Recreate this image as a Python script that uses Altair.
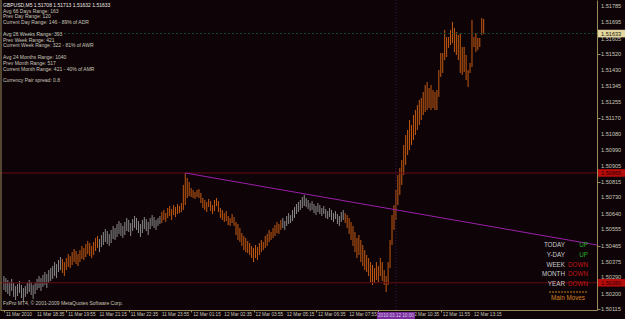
import altair as alt
import pandas as pd

# ---------------- data (prices as points above 1.50000, i.e. 1e-5 units) ----------------
BASE = 1.5
HIGH_PTS = [297, 286, 275, 264, 281, 259, 242, 253, 270, 248, 231, 242, 259, 275, 264, 248, 259, 281, 297, 286,
            303, 319, 308, 330, 341,
            352, 374, 363, 385, 402, 391, 374, 396, 418, 407, 429, 446, 435, 418, 440, 463, 452, 474, 490, 479,
            463, 485, 507, 518, 501, 523,
            540, 556, 545, 529, 551, 573, 562, 584, 600, 589, 573, 595, 617, 606, 589, 611, 628, 617, 600, 584,
            606, 622, 611, 595, 617, 633, 622, 606, 617, 628,
            650, 661, 644, 672, 683, 666, 688, 677, 694, 683, 699, 799, 865, 837, 815, 782, 771, 760, 771, 776,
            755, 727, 716, 705, 722, 710, 688, 716, 727, 710, 672, 661, 644, 655, 628, 617, 639, 622, 595, 584,
            562, 534, 518, 507, 490, 479, 463, 452, 468, 457, 479, 496, 485, 518, 529, 551, 540, 562, 578, 595,
            584, 606, 617, 600, 628, 644, 633, 661, 677, 694, 705, 716, 733, 744, 727, 716, 699, 710, 694, 683,
            699, 688, 672, 683, 666, 655, 672, 661, 644, 655, 639, 628, 650, 661, 644, 633, 617, 595, 573, 540,
            507, 523, 496, 468, 440, 413, 396, 374, 358, 341, 374, 352, 396, 374, 330, 297, 374, 496, 633, 688,
            771, 854, 892, 936, 1019, 1074, 1102, 1157, 1129, 1184, 1212, 1239, 1267, 1278, 1311, 1350, 1366, 1333, 1350, 1322,
            1311, 1322, 1432, 1526, 1526, 1653, 1614, 1614, 1653, 1697, 1664, 1642, 1625, 1636, 1559, 1559, 1515, 1432, 1471, 1708,
            1614, 1636, 1609, 1609, 1719, 1713]
LOW_PTS = [220, 209, 198, 187, 215, 182, 165, 187, 204, 176, 159, 182, 198, 209, 193, 171, 198, 220, 231, 215,
           237, 248, 231, 259, 270,
           281, 297, 286, 319, 330, 314, 297, 330, 347, 341, 358, 374, 363, 352, 374, 391, 385, 402, 418, 407,
           396, 413, 435, 452, 429, 457,
           468, 485, 474, 463, 479, 501, 496, 512, 529, 518, 507, 523, 545, 540, 518, 545, 562, 551, 534, 512,
           534, 556, 545, 523, 556, 573, 562, 551, 573, 584,
           589, 606, 595, 617, 628, 606, 633, 622, 639, 644, 650, 661, 688, 727, 738, 733, 727, 722, 733, 727,
           699, 672, 661, 650, 677, 655, 639, 655, 683, 650, 617, 606, 595, 600, 578, 573, 589, 573, 523, 496,
           485, 463, 440, 429, 424, 413, 396, 374, 396, 385, 413, 429, 440, 452, 463, 485, 496, 507, 518, 534,
           529, 551, 562, 551, 573, 584, 589, 600, 617, 639, 650, 661, 672, 683, 677, 666, 655, 661, 644, 633,
           650, 639, 628, 639, 617, 611, 622, 606, 595, 611, 584, 573, 595, 606, 589, 562, 529, 496, 463, 429,
           396, 413, 374, 352, 330, 319, 297, 264, 248, 259, 275, 264, 297, 270, 248, 209, 248, 341, 468, 551,
           606, 688, 744, 799, 854, 909, 964, 991, 1019, 1047, 1074, 1102, 1129, 1157, 1184, 1201, 1212, 1223, 1212, 1223,
           1212, 1212, 1284, 1394, 1416, 1487, 1504, 1554, 1570, 1581, 1531, 1515, 1487, 1416, 1405, 1421, 1377, 1339, 1416, 1449,
           1559, 1531, 1542, 1559, 1625, 1632]
# o = orange bar, g = grey bar (one letter per bar)
BAR_TONE = ("gggggggggggggggggggggggggggggg"          # 0-29
            "ooooooooooooooooooo"                     # 30-48
            "gggggggggggggggggggggggggggggggg"        # 49-80
            "oooooooooooooooooooooooooooooooooooooooooooooooooooooooooooooo"  # 81-144
            "gggggggggggggggggggggggggggggggg"        # 145-176
            "ooooooooooooooooooooooooooooooooooooooooooooooooooooooooooooooooooooooo")
BAR_TONE = BAR_TONE[:len(HIGH_PTS)].ljust(len(HIGH_PTS), "o")

TICK_IDX = [0, 16, 32, 48, 64, 80, 96, 112, 128, 144, 160, 176, 192, 208, 224, 240]
TICK_LABELS = ["11 Mar 2010", "11 Mar 18:35", "11 Mar 19:55", "11 Mar 21:15", "11 Mar 22:35", "11 Mar 23:55",
               "12 Mar 01:15", "12 Mar 02:35", "12 Mar 03:55", "12 Mar 05:15", "12 Mar 06:35", "12 Mar 07:55",
               "", "12 Mar 10:35", "12 Mar 11:55", "12 Mar 13:15"]
Y_TICKS = [1.51785, 1.51695, 1.51605, 1.51520, 1.51430, 1.51345, 1.51255, 1.51170, 1.51080, 1.50990,
           1.50905, 1.50815, 1.50730, 1.50640, 1.50555, 1.50465, 1.50375, 1.50290, 1.50200, 1.50115]

TREND_IDX = [93, 304.1]
TREND_PRICE = [1.50865, 1.50468]
RED_LEVELS = [1.50865, 1.50260]
BID_PRICE = 1.51633
MARK_IDX = 201
MARK_LABEL = "2010.03.12 10:00"

INFO_TITLE = "GBPUSD,M5  1.51708 1.51713 1.51632 1.51633"
INFO_LINES = ["Avg 66 Days Range: 163", "Prev Day Range: 120", "Current Day Range: 146 - 89% of ADR", "",
              "Avg 26 Weeks Range: 393", "Prev Week Range: 421", "Current Week Range: 322 - 81% of AWR", "",
              "Avg 24 Months Range: 1040", "Prev Month Range: 517", "Current Month Range: 421 - 40% of AMR", "",
              "Currency Pair spread: 0.8"]
COPYRIGHT = "FxPro MT4, \u00a9 2001-2009 MetaQuotes Software Corp."
MM_LABELS = ["TODAY", "Y-DAY", "WEEK", "MONTH", "YEAR"]
MM_VALUES = ["UP", "UP", "DOWN", "DOWN", "DOWN"]

# ---------------- styling ----------------
BG = "#0e0408"
OLIVE = "#9a8a5c"
TXT = "#c8c4b8"
FONT = "Liberation Sans"
W, H = 597, 310

xs = alt.Scale(domain=[-2, 304.1], nice=False, zero=False)
ys = alt.Scale(domain=[1.50110, 1.51818], nice=False, zero=False)

bars = pd.DataFrame({
    "i": list(range(len(HIGH_PTS))),
    "high": [BASE + p / 1e5 for p in HIGH_PTS],
    "low": [BASE + p / 1e5 for p in LOW_PTS],
    "tone": list(BAR_TONE),
})

x_axis = alt.Axis(values=TICK_IDX, labels=False, tickColor=OLIVE, tickSize=2, domainColor=OLIVE,
                  grid=False, title=None)
y_axis = alt.Axis(orient="right", values=Y_TICKS, labels=False, tickColor=OLIVE, tickSize=3,
                  domainColor=OLIVE, grid=False, title=None)

base_bars = alt.Chart(bars).mark_rule(strokeWidth=1).encode(
    x=alt.X("i:Q", scale=xs, axis=x_axis),
    y=alt.Y("high:Q", scale=ys, axis=y_axis),
    y2="low:Q",
    color=alt.Color("tone:N", scale=alt.Scale(domain=["o", "g"], range=["#c45a12", "#8a8a8a"]), legend=None),
)

# axis labels drawn as text through the same scales
xlab = alt.Chart(pd.DataFrame({"i": TICK_IDX, "t": TICK_LABELS})).mark_text(
    align="left", baseline="middle", fontSize=4.7, font=FONT, color=TXT, dx=2).encode(
    x=alt.X("i:Q", scale=xs), y=alt.value(H + 5), text="t:N")
ylab = alt.Chart(pd.DataFrame({"p": Y_TICKS})).transform_calculate(
    t="format(datum.p, '.5f')").mark_text(
    align="left", baseline="middle", fontSize=5.6, font=FONT, color=TXT).encode(
    y=alt.Y("p:Q", scale=ys), x=alt.value(W + 4), text="t:N")

red_lines = alt.Chart(pd.DataFrame({"p": RED_LEVELS})).mark_rule(color="#6a0a14", strokeWidth=1).encode(
    y=alt.Y("p:Q", scale=ys), x=alt.value(0), x2=alt.value(W))
bid_line = alt.Chart(pd.DataFrame({"p": [BID_PRICE]})).mark_rule(
    color="#0f4a36", strokeWidth=1, strokeDash=[2, 2]).encode(
    y=alt.Y("p:Q", scale=ys), x=alt.value(0), x2=alt.value(W))
vmark = alt.Chart(pd.DataFrame({"i": [MARK_IDX]})).mark_rule(
    color="#3c1c4c", strokeWidth=1, strokeDash=[1, 2]).encode(
    x=alt.X("i:Q", scale=xs), y=alt.value(0), y2=alt.value(H))

trend = alt.Chart(pd.DataFrame({"i": TREND_IDX, "p": TREND_PRICE})).mark_line(
    color="#9a1fa8", strokeWidth=1).encode(x=alt.X("i:Q", scale=xs), y=alt.Y("p:Q", scale=ys))

left_frame = alt.Chart(pd.DataFrame({"a": [0]})).mark_rule(color=OLIVE, strokeWidth=1).encode(
    x=alt.value(1), y=alt.value(0), y2=alt.value(H))

# price tags on the right axis
tags = pd.DataFrame({"p": [BID_PRICE] + RED_LEVELS,
                     "bg": ["#e4d8a0", "#b80c0c", "#b80c0c"],
                     "fg": ["#201808", "#2a0000", "#2a0000"]})
tags["t"] = tags["p"].map(lambda v: "%.5f" % v)
tag_box = alt.Chart(tags).transform_calculate(top="datum.p + 0.00021", bot="datum.p - 0.00021").mark_rect().encode(
    y=alt.Y("top:Q", scale=ys), y2="bot:Q", x=alt.value(W + 1), x2=alt.value(625),
    color=alt.Color("bg:N", scale=None))
tag_txt = alt.Chart(tags).mark_text(align="left", baseline="middle", fontSize=5.6, font=FONT).encode(
    y=alt.Y("p:Q", scale=ys), x=alt.value(W + 4), text="t:N", color=alt.Color("fg:N", scale=None))

# highlighted time label on the x axis
mark_box = alt.Chart(pd.DataFrame({"i": [MARK_IDX]})).mark_rect(color="#7a2e9e").encode(
    x=alt.value(377), x2=alt.value(415), y=alt.value(H + 2), y2=alt.value(319))
mark_txt = alt.Chart(pd.DataFrame({"i": [MARK_IDX], "t": [MARK_LABEL]})).mark_text(
    align="center", baseline="middle", fontSize=4.6, font=FONT, color="#d6c6e6").encode(
    x=alt.X("i:Q", scale=xs), y=alt.value(H + 5.5), text="t:N")

info_layers = [alt.Chart(pd.DataFrame({"t": [INFO_TITLE]})).mark_text(
    align="left", baseline="middle", fontSize=5, font=FONT, color="#ece8e0").encode(
    x=alt.value(3), y=alt.value(5), text="t:N")]
for k, line in enumerate(INFO_LINES):
    if not line:
        continue
    info_layers.append(alt.Chart(pd.DataFrame({"t": [line]})).mark_text(
        align="left", baseline="middle", fontSize=5, font=FONT, color=TXT).encode(
        x=alt.value(3), y=alt.value(10.6 + 5.8 * k), text="t:N"))
copy_txt = alt.Chart(pd.DataFrame({"t": [COPYRIGHT]})).mark_text(
    align="left", baseline="middle", fontSize=5, font=FONT, color=TXT).encode(
    x=alt.value(3), y=alt.value(303), text="t:N")

mm_layers = []
for k, (lab, val) in enumerate(zip(MM_LABELS, MM_VALUES)):
    yy = 245 + 9.8 * k
    mm_layers.append(alt.Chart(pd.DataFrame({"t": [lab]})).mark_text(
        align="right", baseline="middle", fontSize=6.3, font=FONT, color="#c8c8c8").encode(
        x=alt.value(565), y=alt.value(yy), text="t:N"))
    mm_layers.append(alt.Chart(pd.DataFrame({"t": [val]})).mark_text(
        align="right", baseline="middle", fontSize=6.3, font=FONT,
        color="#22b022" if val == "UP" else "#c01414").encode(
        x=alt.value(588), y=alt.value(yy), text="t:N"))
mm_rule = alt.Chart(pd.DataFrame({"a": [0]})).mark_rule(color="#c87818", strokeDash=[2, 1]).encode(
    x=alt.value(549), x2=alt.value(587), y=alt.value(292))
mm_title = alt.Chart(pd.DataFrame({"t": ["Main Moves"]})).mark_text(
    align="center", baseline="middle", fontSize=6.3, font=FONT, color="#d08020").encode(
    x=alt.value(568), y=alt.value(297.5), text="t:N")

chart = alt.layer(
    base_bars, red_lines, bid_line, vmark, trend, left_frame, xlab, ylab,
    tag_box, tag_txt, mark_box, mark_txt,
    *info_layers, copy_txt, *mm_layers, mm_rule, mm_title,
).properties(
    width=W, height=H, autosize=alt.AutoSizeParams(type="none"),
    padding={"left": 0, "top": 0, "right": 28, "bottom": 9}, background=BG,
).configure_view(stroke=None).configure_axis(grid=False)

chart.save("out.html", embed_options={"renderer": "svg", "actions": False})
